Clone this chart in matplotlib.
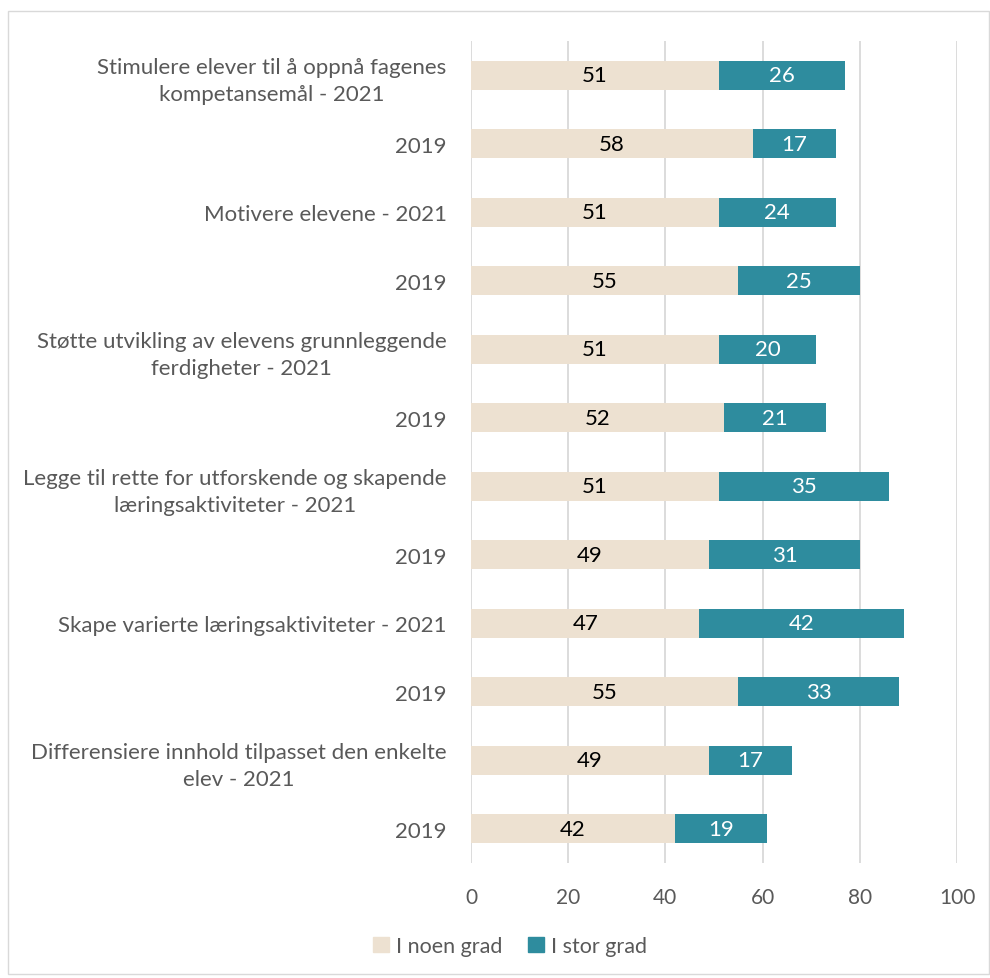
import matplotlib
matplotlib.use("Agg")
import matplotlib.pyplot as plt
from matplotlib.patches import Rectangle, Patch

plt.rcParams['font.family'] = ['Lato', 'DejaVu Sans']

categories = [
    "Stimulere elever til å oppnå fagenes\nkompetansemål - 2021",
    "2019",
    "Motivere elevene - 2021",
    "2019",
    "Støtte utvikling av elevens grunnleggende\nferdigheter - 2021",
    "2019",
    "Legge til rette for utforskende og skapende\nlæringsaktiviteter - 2021",
    "2019",
    "Skape varierte læringsaktiviteter - 2021",
    "2019",
    "Differensiere innhold tilpasset den enkelte\nelev - 2021",
    "2019",
]
noen_grad = [51, 58, 51, 55, 51, 52, 51, 49, 47, 55, 49, 42]
stor_grad = [26, 17, 24, 25, 20, 21, 35, 31, 42, 33, 17, 19]
xticks = [0, 20, 40, 60, 80, 100]

beige = "#EDE1D1"
teal = "#2E8C9E"
grey_txt = "#595959"

fig = plt.figure(figsize=(9.9, 9.79), dpi=100)
ax = fig.add_axes([471 / 990, 1 - 864 / 979, (957 - 471) / 990, (864 - 42) / 979])

pos = list(range(len(categories)))
b1 = ax.barh(pos, noen_grad, height=0.42, color=beige, label="I noen grad", zorder=3)
b2 = ax.barh(pos, stor_grad, left=noen_grad, height=0.42, color=teal, label="I stor grad", zorder=3)

# value labels in the middle of each segment
for rect, v in zip(b1, noen_grad):
    ax.text(rect.get_x() + rect.get_width() / 2, rect.get_y() + rect.get_height() / 2, str(v),
            ha="center", va="center", fontsize=16, color="black", zorder=4)
for rect, v in zip(b2, stor_grad):
    ax.text(rect.get_x() + rect.get_width() / 2, rect.get_y() + rect.get_height() / 2, str(v),
            ha="center", va="center", fontsize=16, color="white", zorder=4)

ax.set_xlim(0, 100)
ax.set_ylim(len(categories) - 0.5, -0.5)
ax.set_xticks(xticks)
ax.set_xticklabels([str(t) for t in xticks], fontsize=15, color=grey_txt)
ax.set_yticks(pos)
ax.set_yticklabels(categories, fontsize=16, color=grey_txt, multialignment="center", linespacing=1.45)
ax.tick_params(axis="both", length=0)
ax.tick_params(axis="x", pad=17)
ax.tick_params(axis="y", pad=17.5)
ax.grid(axis="x", color="#D9D9D9", linewidth=1.3, zorder=0)
for s in ax.spines.values():
    s.set_visible(False)

handles = [Patch(color=beige), Patch(color=teal)]
fig.legend(handles, ["I noen grad", "I stor grad"], loc="center", bbox_to_anchor=(0.515, 1 - 947 / 979),
           ncol=2, frameon=False, fontsize=15.5, handlelength=0.75, handleheight=0.75,
           handletextpad=0.3, columnspacing=1.2, labelcolor=grey_txt)

fig.patches.append(Rectangle((8 / 990, 4 / 979), 1 - 9 / 990, 1 - 16 / 979, transform=fig.transFigure,
                             fill=False, edgecolor="#D9D9D9", linewidth=1))

fig.savefig("out.png", dpi=100)
